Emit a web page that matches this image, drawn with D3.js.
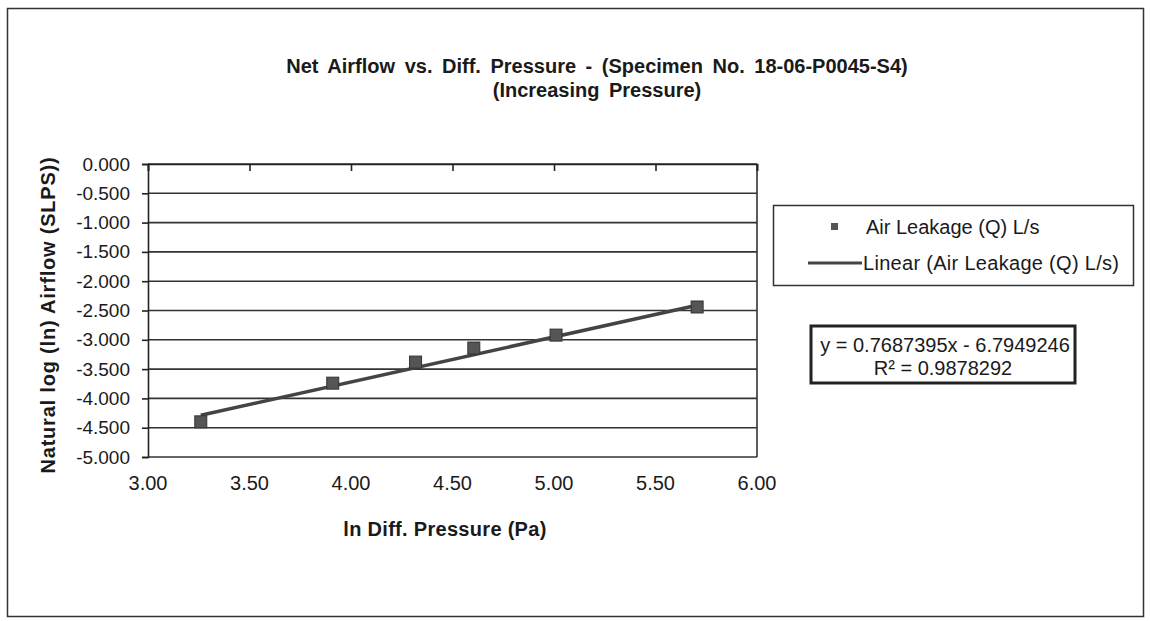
<!DOCTYPE html>
<html>
<head>
<meta charset="utf-8">
<script src="https://cdn.jsdelivr.net/npm/d3@7"></script>
<style>
  body { margin: 0; background: #fff; }
  svg text { font-family: "Liberation Sans", Arial, sans-serif; fill: #1a1a1a; }
</style>
</head>
<body>
<div id="chart-container"></div>
<script>
// Data: ln(pressure) vs ln(airflow)
const lnPressure = [3.26, 3.91, 4.318, 4.605, 5.01, 5.705];
const lnAirflow = [-4.40, -3.74, -3.38, -3.14, -2.92, -2.44];
const xTicks = [3.0, 3.5, 4.0, 4.5, 5.0, 5.5, 6.0];
const yTicks = [0, -0.5, -1, -1.5, -2, -2.5, -3, -3.5, -4, -4.5, -5];
const trendSlope = 0.7687395;
const trendIntercept = -6.7949246;
const trendR2 = 0.9878292;

const width = 1151;
const height = 621;
const marginLeft = 148;
const marginRight = 394;
const marginTop = 164;
const marginBottom = 164;

const x = d3.scaleLinear()
  .domain([3, 6])
  .range([marginLeft, width - marginRight]);

const y = d3.scaleLinear()
  .domain([-5, 0])
  .range([height - marginBottom, marginTop]);

const svg = d3.create("svg")
  .attr("width", width)
  .attr("height", height)
  .attr("viewBox", [0, 0, width, height]);

// outer chart border
svg.append("rect")
  .attr("x", 7.5).attr("y", 8.5)
  .attr("width", 1136).attr("height", 608)
  .attr("fill", "none")
  .attr("stroke", "#333")
  .attr("stroke-width", 1.5);

// title
svg.append("text")
  .attr("x", 597).attr("y", 73)
  .attr("text-anchor", "middle")
  .attr("font-size", "20px")
  .attr("font-weight", "bold")
  .attr("word-spacing", "4px")
  .text("Net Airflow vs. Diff. Pressure - (Specimen No. 18-06-P0045-S4)");

svg.append("text")
  .attr("x", 597).attr("y", 97)
  .attr("text-anchor", "middle")
  .attr("font-size", "20px")
  .attr("font-weight", "bold")
  .attr("word-spacing", "4px")
  .text("(Increasing Pressure)");

// gridlines
svg.append("g")
  .selectAll("line")
  .data(yTicks)
  .join("line")
  .attr("x1", marginLeft)
  .attr("x2", width - marginRight)
  .attr("y1", d => y(d))
  .attr("y2", d => y(d))
  .attr("stroke", "#333")
  .attr("stroke-width", 1.6);

// right border of plot area
svg.append("line")
  .attr("x1", width - marginRight).attr("x2", width - marginRight)
  .attr("y1", y(0)).attr("y2", y(-5))
  .attr("stroke", "#333")
  .attr("stroke-width", 1.6);

// y axis
svg.append("g")
  .attr("transform", `translate(${marginLeft},0)`)
  .call(d3.axisLeft(y).tickValues(yTicks).tickSize(6).tickPadding(12))
  .call(g => g.selectAll("path, line").attr("stroke", "#222").attr("stroke-width", 1.6))
  .call(g => g.selectAll("text").attr("font-size", "19px").attr("fill", "#1a1a1a")
    .attr("font-family", "Liberation Sans, Arial, sans-serif")
    .text(d => d3.format(".3f")(d).replace("−", "-")));

// x axis line sits at y = 0 (top), ticks inside, labels below the plot
svg.append("g")
  .attr("transform", `translate(0,${y(0)})`)
  .call(d3.axisBottom(x).tickValues(xTicks).tickSize(7).tickFormat(""))
  .call(g => g.selectAll("path, line").attr("stroke", "#222").attr("stroke-width", 1.6));

svg.append("g")
  .selectAll("text")
  .data(xTicks)
  .join("text")
  .attr("x", d => x(d))
  .attr("y", 490)
  .attr("text-anchor", "middle")
  .attr("font-size", "20px")
  .text(d => d3.format(".2f")(d));

// axis titles
svg.append("text")
  .attr("x", 445).attr("y", 536)
  .attr("text-anchor", "middle")
  .attr("font-size", "20px")
  .attr("font-weight", "bold")
  .attr("letter-spacing", "0.3px")
  .text("ln Diff. Pressure (Pa)");

svg.append("text")
  .attr("transform", `translate(55,315) rotate(-90)`)
  .attr("text-anchor", "middle")
  .attr("font-size", "20px")
  .attr("font-weight", "bold")
  .attr("letter-spacing", "0.8px")
  .text("Natural log (ln) Airflow (SLPS))");

// linear trendline over the data range
const trendX = d3.extent(lnPressure);
svg.append("line")
  .attr("x1", x(trendX[0]))
  .attr("y1", y(trendSlope * trendX[0] + trendIntercept))
  .attr("x2", x(trendX[1]))
  .attr("y2", y(trendSlope * trendX[1] + trendIntercept))
  .attr("stroke", "#444")
  .attr("stroke-width", 3.5);

// data markers
svg.append("g")
  .selectAll("rect")
  .data(lnPressure.map((p, i) => [p, lnAirflow[i]]))
  .join("rect")
  .attr("x", d => x(d[0]) - 6)
  .attr("y", d => y(d[1]) - 6)
  .attr("width", 12)
  .attr("height", 12)
  .attr("fill", "#555")
  .attr("stroke", "#333")
  .attr("stroke-width", 1);

// legend
const legend = svg.append("g");
legend.append("rect")
  .attr("x", 773.5).attr("y", 205.5)
  .attr("width", 360).attr("height", 80)
  .attr("fill", "#fff")
  .attr("stroke", "#333")
  .attr("stroke-width", 1.5);

legend.append("rect")
  .attr("x", 831).attr("y", 223)
  .attr("width", 7).attr("height", 7)
  .attr("fill", "#555");

legend.append("text")
  .attr("x", 866).attr("y", 234)
  .attr("font-size", "20px")
  .text("Air Leakage (Q) L/s");

legend.append("line")
  .attr("x1", 808).attr("x2", 862)
  .attr("y1", 263).attr("y2", 263)
  .attr("stroke", "#444")
  .attr("stroke-width", 3);

legend.append("text")
  .attr("x", 863).attr("y", 270)
  .attr("font-size", "20px")
  .attr("letter-spacing", "0.3px")
  .text("Linear (Air Leakage (Q) L/s)");

// equation box
const eq = svg.append("g");
eq.append("rect")
  .attr("x", 811).attr("y", 326)
  .attr("width", 264).attr("height", 57)
  .attr("fill", "#fff")
  .attr("stroke", "#222")
  .attr("stroke-width", 3);

eq.append("text")
  .attr("x", 945).attr("y", 352)
  .attr("text-anchor", "middle")
  .attr("font-size", "20px")
  .text(`y = ${trendSlope}x  - ${Math.abs(trendIntercept)}`);

eq.append("text")
  .attr("x", 943).attr("y", 375)
  .attr("text-anchor", "middle")
  .attr("font-size", "20px")
  .text(`R² = ${trendR2}`);

document.getElementById("chart-container").appendChild(svg.node());
</script>
</body>
</html>
